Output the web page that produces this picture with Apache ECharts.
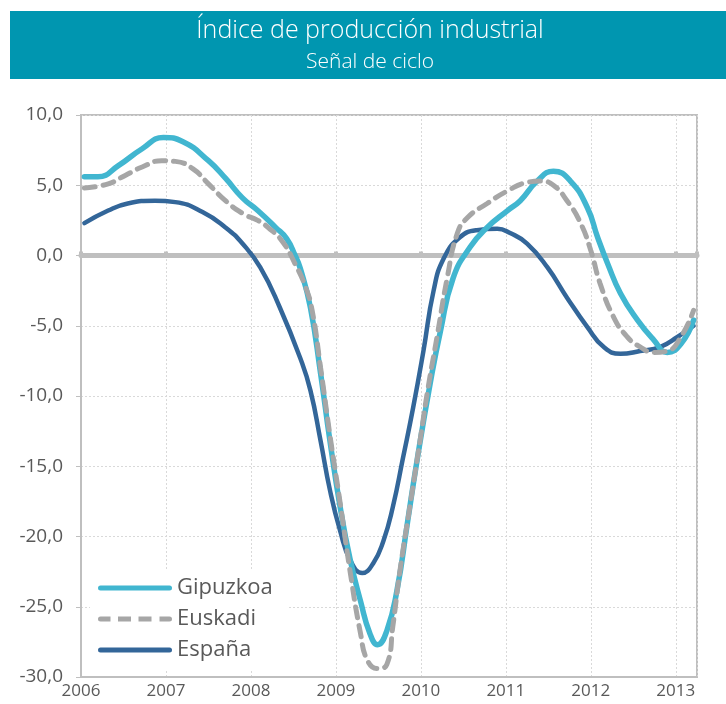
<!DOCTYPE html>
<html>
<head>
<meta charset="utf-8">
<script src="https://cdn.jsdelivr.net/npm/echarts@6/dist/echarts.min.js"></script>
<style>
  html, body { margin: 0; padding: 0; background: #fff; }
  #chart { width: 726px; height: 704px; }
</style>
</head>
<body>
<div id="chart"></div>
<script>
// [year, value] pairs
const gipuzkoa = [
  [2006.04, 5.6], [2006.2, 5.6], [2006.44, 6.4], [2006.72, 7.6], [2006.97, 8.4],
  [2007.2, 8.1], [2007.5, 6.75], [2007.7, 5.5], [2007.9, 4.1], [2008.08, 3.2],
  [2008.29, 2.0], [2008.42, 1.2], [2008.52, 0.0], [2008.58, -0.9], [2008.7, -3.7],
  [2008.82, -8.4], [2008.93, -13.2], [2009.05, -17.9], [2009.17, -21.7],
  [2009.29, -24.6], [2009.4, -26.9], [2009.49, -27.7], [2009.6, -26.7],
  [2009.72, -23.8], [2009.84, -19.1], [2009.96, -14.4], [2010.11, -9.1],
  [2010.23, -5.4], [2010.38, -1.6], [2010.58, 0.6], [2010.78, 2.0],
  [2011.02, 3.2], [2011.17, 3.9], [2011.37, 5.3], [2011.56, 6.0], [2011.76, 5.3],
  [2011.96, 3.4], [2012.08, 1.3], [2012.2, -0.6], [2012.35, -2.7], [2012.55, -4.6],
  [2012.74, -6.0], [2012.9, -6.9], [2013.06, -6.3], [2013.21, -4.6]
];
const euskadi = [
  [2006.04, 4.8], [2006.32, 5.1], [2006.52, 5.7], [2006.72, 6.3], [2006.95, 6.75],
  [2007.11, 6.7], [2007.31, 6.2], [2007.5, 5.1], [2007.7, 3.9], [2007.9, 3.0],
  [2008.08, 2.5], [2008.2, 2.0], [2008.37, 1.0], [2008.52, -0.6], [2008.64, -2.2],
  [2008.72, -3.9], [2008.82, -8.0], [2008.93, -12.8], [2009.05, -17.6],
  [2009.17, -22.6], [2009.29, -26.9], [2009.37, -28.8], [2009.49, -29.4],
  [2009.6, -29.1], [2009.67, -26.4], [2009.75, -22.6], [2009.87, -17.9],
  [2009.99, -13.2], [2010.08, -9.6], [2010.19, -5.8], [2010.31, -1.6],
  [2010.43, 1.6], [2010.55, 2.7], [2010.78, 3.7], [2011.02, 4.6], [2011.25, 5.2],
  [2011.41, 5.3], [2011.56, 5.0], [2011.72, 3.9], [2011.88, 2.3], [2012.0, 0.35],
  [2012.11, -2.0], [2012.27, -4.4], [2012.43, -5.8], [2012.58, -6.5],
  [2012.74, -6.9], [2012.9, -6.8], [2013.06, -5.8], [2013.21, -3.9]
];
const espana = [
  [2006.04, 2.3], [2006.32, 3.2], [2006.55, 3.7], [2006.87, 3.9], [2007.11, 3.8],
  [2007.43, 3.1], [2007.7, 2.0], [2007.9, 0.85], [2008.11, -0.85], [2008.34, -3.7],
  [2008.58, -7.3], [2008.7, -9.6], [2008.82, -13.2], [2008.93, -16.7],
  [2009.05, -19.6], [2009.17, -21.7], [2009.31, -22.6], [2009.44, -21.9],
  [2009.56, -20.3], [2009.67, -17.9], [2009.79, -14.4], [2009.91, -10.8],
  [2010.03, -6.8], [2010.15, -2.5], [2010.27, -0.2], [2010.46, 1.3],
  [2010.66, 1.8], [2010.9, 1.9], [2011.05, 1.6], [2011.25, 0.85], [2011.49, -0.85],
  [2011.72, -3.0], [2011.96, -5.1], [2012.15, -6.5], [2012.35, -7.0],
  [2012.58, -6.8], [2012.82, -6.5], [2013.02, -5.8], [2013.21, -5.0]
];
const years = [2006, 2007, 2008, 2009, 2010, 2011, 2012, 2013];
const seriesNames = ['Gipuzkoa', 'Euskadi', 'España'];

const font = '"Open Sans", "Noto Sans", sans-serif';
const gridCol = '#D9D9D9';
const axisCol = '#BFBFBF';
const colGip = '#41B6D0';
const colEus = '#A6A6A6';
const colEsp = '#336699';

// legend icons: 74 x 5 strokes (solid / dashed)
const solidIcon = 'path://M2.5,0H71.5A2.5,2.5,0,0,1,71.5,5H2.5A2.5,2.5,0,0,1,2.5,0Z';
const dashIcon = 'path://M2.5,0H12.5V5H2.5A2.5,2.5,0,0,1,2.5,0Z'
  + 'M20,0H33V5H20ZM40.5,0H53.5V5H40.5Z'
  + 'M61.5,0H71.5A2.5,2.5,0,0,1,71.5,5H61.5Z';

let myChart = echarts.init(document.getElementById('chart'));
let option = {
  animation: false,
  graphic: [
    { type: 'rect', shape: { x: 10, y: 11, width: 716, height: 68 }, style: { fill: '#0096B0' } },
    { type: 'text', x: 370, y: 31, style: { text: 'Índice de producción industrial', fill: '#fff', fontSize: 25, fontWeight: 300, fontFamily: font, align: 'center', verticalAlign: 'middle' } },
    { type: 'text', x: 370, y: 62, style: { text: 'Señal de ciclo', fill: '#fff', fontSize: 21, fontWeight: 300, fontFamily: font, align: 'center', verticalAlign: 'middle' } }
  ],
  grid: { left: 81, right: 29, top: 115, bottom: 27, show: true, borderColor: axisCol, borderWidth: 2 },
  xAxis: [
    {
      type: 'value', min: 2006, max: 2013.25, interval: 1,
      axisLine: { onZero: false, lineStyle: { color: axisCol, width: 2 } },
      axisTick: { show: false },
      splitLine: { show: true, lineStyle: { color: gridCol, type: [2, 2], width: 1 } },
      axisLabel: {
        color: '#595959', fontSize: 17, fontFamily: font, margin: 6,
        showMaxLabel: false,
        formatter: v => years.includes(v) ? String(v) : ''
      }
    },
    {
      type: 'value', min: 2006, max: 2013.25, interval: 1,
      axisLine: { onZero: true, lineStyle: { color: axisCol, width: 5 } },
      axisTick: { show: true, length: 4, inside: false, lineStyle: { color: axisCol, width: 4 } },
      axisLabel: { show: false },
      splitLine: { show: false }
    }
  ],
  yAxis: {
    type: 'value', min: -30, max: 10, interval: 5,
    axisLine: { show: true, lineStyle: { color: axisCol, width: 2 } },
    axisTick: { show: true, length: 5, lineStyle: { color: axisCol } },
    splitLine: { show: true, lineStyle: { color: gridCol, type: [2, 2], width: 1 } },
    axisLabel: {
      color: '#595959', fontSize: 19, fontFamily: font, margin: 18,
      formatter: v => v.toFixed(1).replace('.', ',')
    }
  },
  legend: {
    orient: 'vertical', left: 90, top: 569,
    padding: [8, 16, 8, 8],
    backgroundColor: '#fff',
    itemWidth: 74, itemHeight: 5, itemGap: 9,
    data: [
      { name: seriesNames[0], icon: solidIcon, itemStyle: { color: colGip } },
      { name: seriesNames[1], icon: dashIcon, itemStyle: { color: colEus } },
      { name: seriesNames[2], icon: solidIcon, itemStyle: { color: colEsp } }
    ],
    textStyle: { color: '#595959', fontSize: 22, fontFamily: font, lineHeight: 22 }
  },
  series: [
    {
      name: 'Gipuzkoa', type: 'line', data: gipuzkoa, smooth: 0.5,
      symbol: 'none', z: 4,
      lineStyle: { color: colGip, width: 5.5, cap: 'round' },
      itemStyle: { color: colGip }
    },
    {
      name: 'Euskadi', type: 'line', data: euskadi, smooth: 0.5,
      symbol: 'none', z: 5,
      lineStyle: { color: colEus, width: 5, type: [11, 8], cap: 'round' },
      itemStyle: { color: colEus }
    },
    {
      name: 'España', type: 'line', data: espana, smooth: 0.5,
      symbol: 'none', z: 3,
      lineStyle: { color: colEsp, width: 4.5, cap: 'round' },
      itemStyle: { color: colEsp }
    }
  ]
};
option && myChart.setOption(option);
</script>
</body>
</html>
